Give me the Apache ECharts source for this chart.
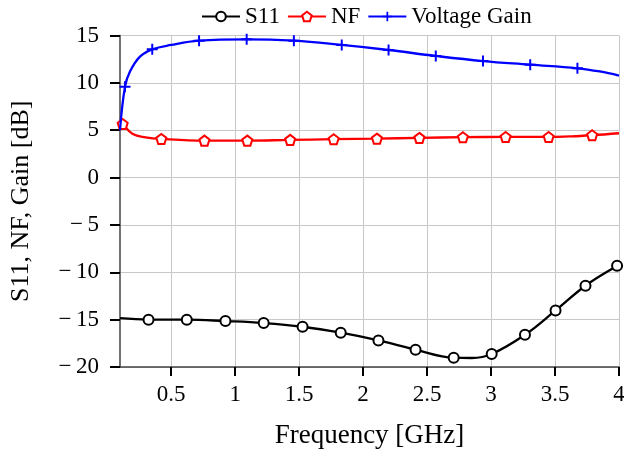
<!DOCTYPE html>
<html><head><meta charset="utf-8">
<script src="https://cdn.jsdelivr.net/npm/echarts@6/dist/echarts.min.js"></script>
<style>html,body{margin:0;padding:0;background:#fff}#c{width:624px;height:452px}</style>
</head><body><div id="c"></div>
<script>
// X tick labels
const xTicks = [0.5, 1, 1.5, 2, 2.5, 3, 3.5, 4];
// S11: marker points
const s11Freq = [0.323, 0.622, 0.924, 1.223, 1.527, 1.825, 2.12, 2.41, 2.708, 3.005, 3.265, 3.504, 3.738, 3.985];
const s11Val  = [-15.0, -15.0, -15.15, -15.36, -15.75, -16.38, -17.19, -18.17, -19.02, -18.63, -16.6, -14.03, -11.42, -9.31];
// S11: extra curve points (no marker)
const s11CurveFreq = [0.1, 2.85, 4.0];
const s11CurveVal  = [-14.85, -19.05, -9.2];
// NF: marker points
const nfFreq = [0.121, 0.423, 0.76, 1.095, 1.43, 1.77, 2.108, 2.44, 2.78, 3.114, 3.45, 3.79];
const nfVal  = [5.66, 4.08, 3.9, 3.9, 3.98, 4.05, 4.11, 4.19, 4.26, 4.29, 4.29, 4.47];
const nfCurveFreq = [0.1, 0.2, 0.3, 3.63, 4.0];
const nfCurveVal  = [6.0, 4.6, 4.25, 4.35, 4.68];
// Voltage Gain: marker points
const gainFreq = [0.139, 0.352, 0.718, 1.09, 1.459, 1.833, 2.199, 2.568, 2.937, 3.306, 3.675];
const gainVal  = [9.6, 13.54, 14.45, 14.6, 14.45, 14.0, 13.47, 12.84, 12.3, 11.92, 11.54];
const gainCurveFreq = [0.1, 0.178, 0.256, 0.5, 3.85, 4.0];
const gainCurveVal  = [5.0, 11.2, 12.77, 14.0, 11.2, 10.76];

function build(mf, mv, cf, cv) {
  const pts = [];
  mf.forEach((f, i) => pts.push({ value: [f, mv[i]] }));
  cf.forEach((f, i) => pts.push({ value: [f, cv[i]], symbol: 'none' }));
  pts.sort((a, b) => a.value[0] - b.value[0]);
  return pts;
}

const FONT = "'Liberation Serif','Times New Roman',serif";
const fmtNum = v => (v < 0 ? '\u2212\u2009' + (-v) : String(v));
const PENT = 'path://M5,0L10,3.63L8.09,9.51L1.91,9.51L0,3.63Z';
const PLUS = 'path://M4.1,0H5.9V4.1H10V5.9H5.9V10H4.1V5.9H0V4.1H4.1Z';

const chart = echarts.init(document.getElementById('c'), null, { renderer: 'canvas' });
chart.setOption({
  animation: false,
  backgroundColor: '#fff',
  textStyle: { fontFamily: FONT },
  legend: {
    top: 0, left: 196,
    itemWidth: 38, itemHeight: 12, itemGap: 7,
    textStyle: { fontFamily: FONT, fontSize: 23, color: '#000' },
    data: ['S11', 'NF', 'Voltage Gain']
  },
  grid: { left: 120, right: 5, top: 35.5, bottom: 85, containLabel: false, outerBoundsMode: 'none' },
  xAxis: {
    type: 'value', min: 0.1, max: 4,
    name: 'Frequency [GHz]', nameLocation: 'middle', nameGap: 55,
    nameTextStyle: { fontFamily: FONT, fontSize: 27, color: '#000' },
    axisLine: { show: true, onZero: false, lineStyle: { color: '#444', width: 1.5 } },
    axisTick: { show: true, customValues: xTicks, length: 9, lineStyle: { color: '#000', width: 2 } },
    axisLabel: { customValues: xTicks, margin: 16, fontFamily: FONT, fontSize: 23, color: '#000', formatter: v => fmtNum(v) },
    splitLine: { show: true, lineStyle: { color: '#c8c8c8', width: 1 } }
  },
  yAxis: {
    type: 'value', min: -20, max: 15, interval: 5,
    name: 'S11, NF, Gain [dB]', nameLocation: 'middle', nameGap: 86,
    nameTextStyle: { fontFamily: FONT, fontSize: 26, color: '#000' },
    axisLine: { show: true, onZero: false, lineStyle: { color: '#444', width: 1.5 } },
    axisTick: { show: true, length: 10, lineStyle: { color: '#000', width: 2 } },
    axisLabel: { margin: 21, fontFamily: FONT, fontSize: 23, color: '#000', formatter: v => fmtNum(v) },
    splitLine: { show: true, lineStyle: { color: '#c8c8c8', width: 1 } }
  },
  series: [
    {
      name: 'S11', type: 'line', smooth: 0.4,
      data: build(s11Freq, s11Val, s11CurveFreq, s11CurveVal),
      symbol: 'circle', symbolSize: 10, showSymbol: true,
      lineStyle: { color: '#000', width: 2.3 },
      itemStyle: { color: '#fff', borderColor: '#000', borderWidth: 2 },
      z: 3
    },
    {
      name: 'NF', type: 'line', smooth: 0.4,
      data: build(nfFreq, nfVal, nfCurveFreq, nfCurveVal),
      symbol: PENT, symbolSize: 10, showSymbol: true,
      lineStyle: { color: '#ff0000', width: 2.3 },
      itemStyle: { color: '#fff', borderColor: '#ff0000', borderWidth: 2 },
      z: 4
    },
    {
      name: 'Voltage Gain', type: 'line', smooth: 0.4,
      data: build(gainFreq, gainVal, gainCurveFreq, gainCurveVal),
      symbol: PLUS, symbolSize: 11, showSymbol: true,
      lineStyle: { color: '#0000ff', width: 2.3 },
      itemStyle: { color: '#0000ff', borderWidth: 0 },
      z: 5
    }
  ]
});
</script>
</body></html>
